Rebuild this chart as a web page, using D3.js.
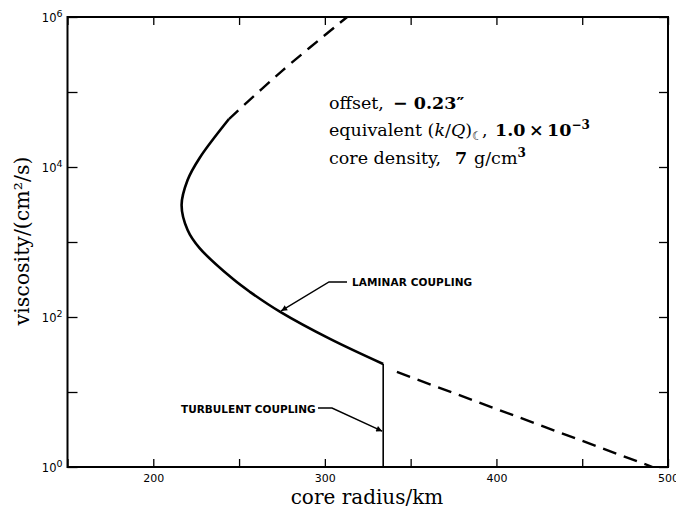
<!DOCTYPE html>
<html>
<head>
<meta charset="utf-8">
<script src="https://cdn.jsdelivr.net/npm/d3@7"></script>
<style>
  body { margin: 0; background: #fff; }
  svg { display: block; }
</style>
</head>
<body>
<div id="chart"></div>
<script>
// core radius (km) vs viscosity (cm^2/s)
var radiusTicks = [150, 200, 250, 300, 350, 400, 450, 500];
var radiusLabels = [200, 300, 400, 500];
var viscTicks = [1, 10, 100, 1e3, 1e4, 1e5, 1e6];
var viscLabels = [1, 100, 1e4, 1e6];

// solid part of the laminar coupling curve
var laminarRadius = [334, 303, 274, 256.5, 246.5, 227, 220, 216.5, 220, 227, 244.1];
var laminarVisc = [23.6, 51, 117, 215, 320, 830, 1450, 3100, 6700, 13200, 43600];
// dashed extensions
var upperRadius = [244.1, 275.6, 313];
var upperVisc = [43600, 196000, 1e6];
var lowerRadius = [342, 491];
var lowerVisc = [18.5, 1];
// turbulent coupling (vertical)
var turbRadius = [334, 334];
var turbVisc = [1, 23.6];

var width = 676, height = 515;
// note: "top" is taken by window.top, so plot* names
var plotLeft = 67.5, plotRight = 668, plotTop = 17, plotBottom = 467;

var svg = d3.select("#chart")
  .append("svg")
  .attr("width", width)
  .attr("height", height);

var x = d3.scaleLinear().domain([150, 500]).range([plotLeft, plotRight]);
var y = d3.scaleLog().domain([1, 1e6]).range([plotBottom, plotTop]);

var font = "'DejaVu Sans', sans-serif";
var serif = "'DejaVu Serif', serif";

// axes - ticks point inwards on all four sides
var xAxis = d3.axisBottom(x).tickValues(radiusTicks).tickSizeInner(-8).tickSizeOuter(0).tickPadding(7)
  .tickFormat(function(d) { return radiusLabels.indexOf(d) >= 0 ? d : ""; });
var xTop = d3.axisTop(x).tickValues(radiusTicks).tickSizeInner(-8).tickSizeOuter(0).tickFormat("");
var yAxis = d3.axisLeft(y).tickValues(viscTicks).tickSizeInner(-10).tickSizeOuter(0).tickFormat("");
var yRight = d3.axisRight(y).tickValues(viscTicks).tickSizeInner(-9).tickSizeOuter(0).tickFormat("");

var gx = svg.append("g").attr("transform", "translate(0," + plotBottom + ")").call(xAxis);
svg.append("g").attr("transform", "translate(0," + plotTop + ")").call(xTop);
var gy = svg.append("g").attr("transform", "translate(" + plotLeft + ",0)").call(yAxis);
svg.append("g").attr("transform", "translate(" + plotRight + ",0)").call(yRight);

svg.selectAll(".domain").remove();
svg.selectAll(".tick line").attr("stroke", "#000").attr("stroke-width", 1.3);
gx.selectAll("text").attr("font-family", font).attr("font-size", 11).attr("fill", "#000");

// y labels as 10 with superscript exponent
gy.selectAll(".tick")
  .filter(function(d) { return viscLabels.indexOf(d) >= 0; })
  .append("text")
  .attr("x", -5)
  .attr("dy", "0.35em")
  .attr("text-anchor", "end")
  .attr("font-family", font)
  .attr("font-size", 11.5)
  .attr("fill", "#000")
  .each(function(d) {
    var t = d3.select(this);
    t.append("tspan").text("10");
    t.append("tspan").attr("dy", "-0.45em").attr("font-size", 9.5).text(Math.round(Math.log10(d)));
  });

// frame
svg.append("rect")
  .attr("x", plotLeft).attr("y", plotTop)
  .attr("width", plotRight - plotLeft).attr("height", plotBottom - plotTop)
  .attr("fill", "none").attr("stroke", "#000").attr("stroke-width", 2);

function toPoints(rs, vs) {
  return rs.map(function(r, i) { return [r, vs[i]]; });
}

var line = d3.line()
  .x(function(d) { return x(d[0]); })
  .y(function(d) { return y(d[1]); })
  .curve(d3.curveCatmullRom.alpha(0.5));

svg.append("path")
  .datum(toPoints(laminarRadius, laminarVisc))
  .attr("d", line)
  .attr("fill", "none").attr("stroke", "#000").attr("stroke-width", 2.6);

svg.append("path")
  .datum(toPoints(upperRadius, upperVisc))
  .attr("d", line)
  .attr("fill", "none").attr("stroke", "#000").attr("stroke-width", 2.4)
  .attr("stroke-dasharray", "13,8");

svg.append("path")
  .datum(toPoints(lowerRadius, lowerVisc))
  .attr("d", line)
  .attr("fill", "none").attr("stroke", "#000").attr("stroke-width", 2.4)
  .attr("stroke-dasharray", "14,8");

svg.append("path")
  .datum(toPoints(turbRadius, turbVisc))
  .attr("d", d3.line().x(function(d) { return x(d[0]); }).y(function(d) { return y(d[1]); }))
  .attr("fill", "none").attr("stroke", "#000").attr("stroke-width", 1.6);

// arrow marker
svg.append("defs").append("marker")
  .attr("id", "arrow")
  .attr("viewBox", "0 0 10 10")
  .attr("refX", 10).attr("refY", 5)
  .attr("markerWidth", 9).attr("markerHeight", 6)
  .attr("markerUnits", "userSpaceOnUse")
  .attr("orient", "auto")
  .append("path")
  .attr("d", "M0,0L10,5L0,10z")
  .attr("fill", "#000");

// laminar coupling label
svg.append("text")
  .attr("x", 352).attr("y", 286)
  .attr("font-family", font).attr("font-size", 10.5).attr("font-weight", "bold")
  .attr("letter-spacing", 0.1)
  .text("LAMINAR COUPLING");
svg.append("path")
  .attr("d", "M347,282L329,282L" + x(274.5) + "," + (y(117) - 1))
  .attr("fill", "none").attr("stroke", "#000").attr("stroke-width", 1.4)
  .attr("marker-end", "url(#arrow)");

// turbulent coupling label
svg.append("text")
  .attr("x", 181).attr("y", 413)
  .attr("font-family", font).attr("font-size", 10.5).attr("font-weight", "bold")
  .attr("letter-spacing", 0)
  .text("TURBULENT COUPLING");
svg.append("path")
  .attr("d", "M318,408L332,408L" + (x(334) - 1) + "," + y(3.0))
  .attr("fill", "none").attr("stroke", "#000").attr("stroke-width", 1.4)
  .attr("marker-end", "url(#arrow)");

// parameter block
var block = svg.append("g").attr("font-family", serif).attr("font-size", 17.5).attr("fill", "#000");

var l1 = block.append("text").attr("x", 329).attr("y", 109);
l1.append("tspan").text("offset,");
l1.append("tspan").attr("x", 393).attr("font-weight", "bold").text("\u2212 0.23\u2033");

var l2 = block.append("text").attr("x", 329).attr("y", 136);
l2.append("tspan").text("equivalent (");
l2.append("tspan").attr("font-style", "italic").text("k");
l2.append("tspan").text("/");
l2.append("tspan").attr("font-style", "italic").text("Q");
l2.append("tspan").text(")");
l2.append("tspan").attr("dy", 4).attr("font-size", 12).attr("font-family", font).text("\u263E");
l2.append("tspan").attr("dy", -4).attr("dx", -1).text(",");
l2.append("tspan").attr("x", 495).attr("font-weight", "bold").text("1.0\u2009\u00D7\u200910");
l2.append("tspan").attr("dy", -7).attr("font-size", 12).attr("font-weight", "bold").text("\u22123");

var l3 = block.append("text").attr("x", 329).attr("y", 164);
l3.append("tspan").text("core density,");
l3.append("tspan").attr("x", 455).attr("font-weight", "bold").text("7");
l3.append("tspan").attr("x", 474).text("g/cm");
l3.append("tspan").attr("dy", -7).attr("font-size", 12).attr("font-weight", "bold").text("3");

// axis titles
svg.append("text")
  .attr("x", 367).attr("y", 504)
  .attr("text-anchor", "middle")
  .attr("font-family", serif).attr("font-size", 20)
  .text("core radius/km");

svg.append("text")
  .attr("transform", "translate(29,241) rotate(-90)")
  .attr("text-anchor", "middle")
  .attr("font-family", serif).attr("font-size", 20.5)
  .text("viscosity/(cm\u00B2/s)");
</script>
</body>
</html>
